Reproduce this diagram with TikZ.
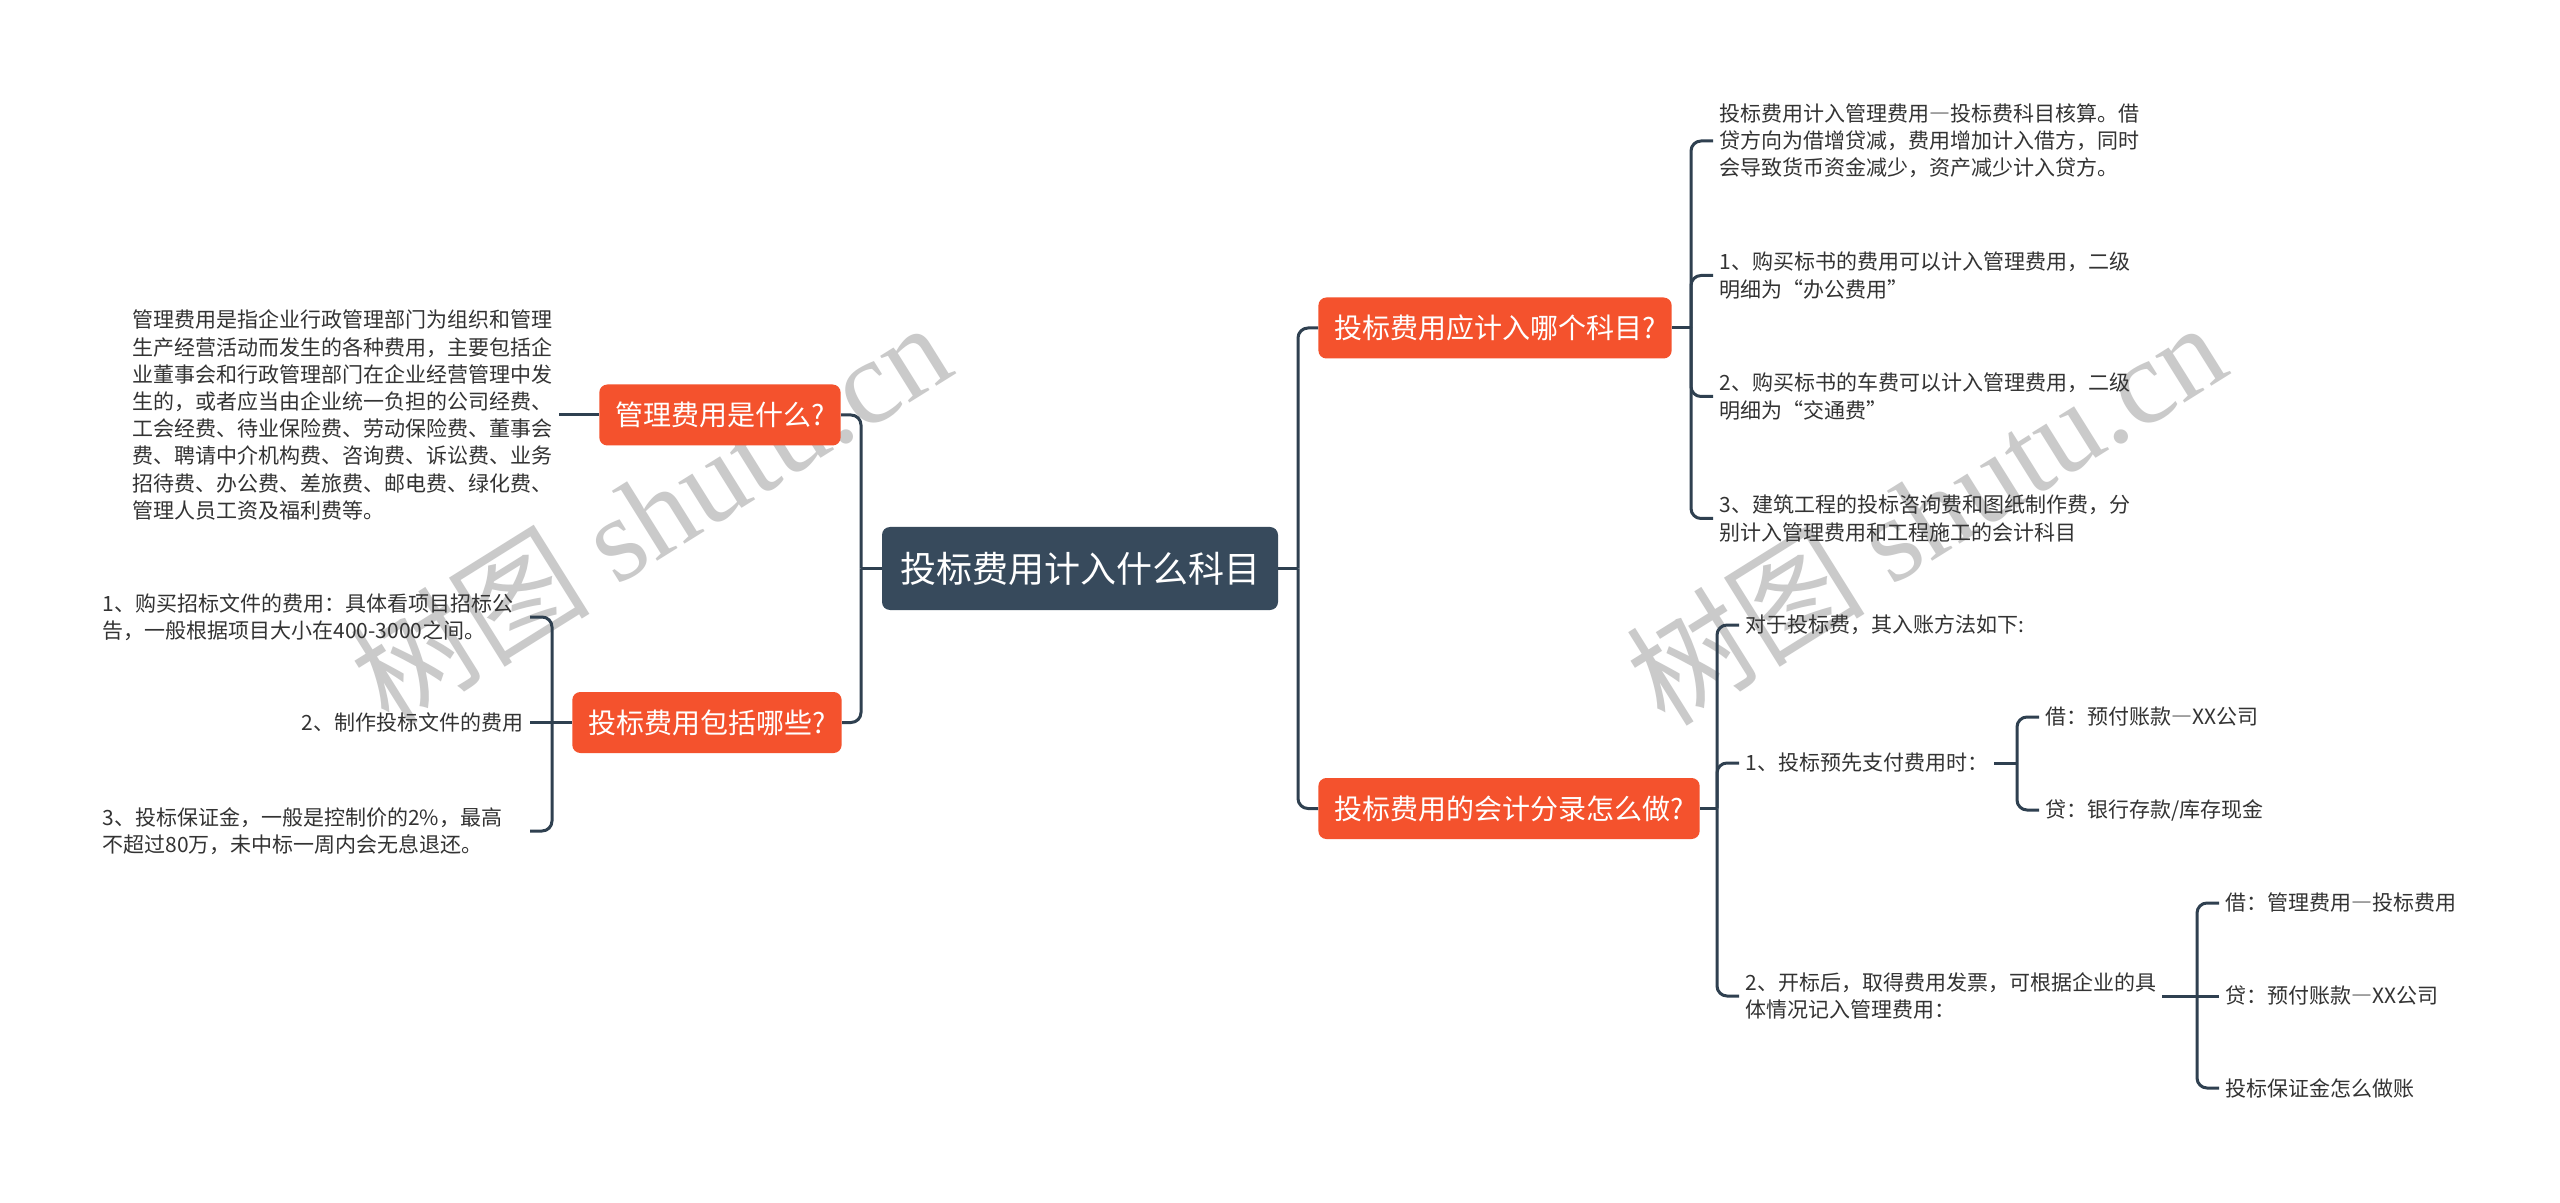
\documentclass[tikz,border=0pt]{standalone}
\usepackage{fontspec}
\setmainfont{Noto Sans CJK SC}
\newfontfamily\wmlat{Liberation Serif}
\newfontfamily\fwfont[RawFeature=+fwid]{Noto Sans CJK SC}
\newcommand\fwdash{{\fwfont —}}
\definecolor{orangebox}{HTML}{F4522D}
\definecolor{darkbox}{HTML}{374A5C}
\definecolor{linec}{HTML}{2F4050}
\definecolor{txt}{HTML}{333333}
\definecolor{wm}{HTML}{CACACA}
\begin{document}
\begin{tikzpicture}[x=0.5pt,y=-0.5pt,
  conn/.style={draw=linec,line width=1.5pt,rounded corners=5pt},
  rootbox/.style={fill=darkbox,rounded corners=4pt,text=white,font=\fontsize{18pt}{22pt}\selectfont,inner xsep=9pt,inner ysep=0pt,minimum height=41.5pt},
  topicbox/.style={fill=orangebox,rounded corners=4pt,text=white,font=\fontsize{14pt}{17pt}\selectfont,inner xsep=8pt,inner ysep=0pt,minimum height=30.5pt},
  leaf/.style={text=txt,font=\fontsize{10.5pt}{13.6pt}\selectfont,inner xsep=3pt,inner ysep=2pt,align=left},
  wrapleaf/.style={leaf,text width=210.5pt},
  wmark/.style={text=wm,rotate=32,font=\fontsize{60pt}{70pt}\selectfont}
]
\useasboundingbox (0,0) rectangle (2560,1203);
\fill[white] (0,0) rectangle (2560,1203);

% watermarks
\node[wmark] (wm1) at (650,512) {树图 {\wmlat shutu.cn}};
\node[wmark] (wm2) at (1925,512) {树图 {\wmlat shutu.cn}};

% root and topics
\node[rootbox] (root) at (1080,568.5) {投标费用计入什么科目};
\node[topicbox,anchor=east] (t1) at (841,415) {管理费用是什么?};
\node[topicbox,anchor=east] (t2) at (842,722.5) {投标费用包括哪些?};
\node[topicbox,anchor=west] (t3) at (1318,328) {投标费用应计入哪个科目?};
\node[topicbox,anchor=west] (t4) at (1318,808.5) {投标费用的会计分录怎么做?};

% junctions
\coordinate (jL) at (861,568.5);
\coordinate (jR) at (1298,568.5);
\coordinate (j2) at (552,722.5);
\coordinate (j3) at (1691,328);
\coordinate (j4) at (1717,808.5);
\coordinate (j41) at (2017,763);
\coordinate (j42) at (2197,996);

% left leaves
\node[leaf,anchor=east] (p1) at (559,415) {管理费用是指企业行政管理部门为组织和管理\\生产经营活动而发生的各种费用，主要包括企\\业董事会和行政管理部门在企业经营管理中发\\生的，或者应当由企业统一负担的公司经费、\\工会经费、待业保险费、劳动保险费、董事会\\费、聘请中介机构费、咨询费、诉讼费、业务\\招待费、办公费、差旅费、邮电费、绿化费、\\管理人员工资及福利费等。};
\node[wrapleaf,anchor=east] (b1) at (530,617) {1、购买招标文件的费用：具体看项目招标公\\告，一般根据项目大小在400-3000之间。};
\node[leaf,anchor=east] (b2) at (530,722.5) {2、制作投标文件的费用};
\node[wrapleaf,anchor=east] (b3) at (530,831) {3、投标保证金，一般是控制价的2\%，最高\\不超过80万，未中标一周内会无息退还。};

% right leaves (topic 3)
\node[leaf,anchor=west] (r1) at (1713,141) {投标费用计入管理费用\fwdash 投标费科目核算。借\\贷方向为借增贷减，费用增加计入借方，同时\\会导致货币资金减少，资产减少计入贷方。};
\node[leaf,anchor=west] (r2) at (1713,275.5) {1、购买标书的费用可以计入管理费用，二级\\明细为“办公费用”};
\node[leaf,anchor=west] (r3) at (1713,396.5) {2、购买标书的车费可以计入管理费用，二级\\明细为“交通费”};
\node[leaf,anchor=west] (r4) at (1713,518.5) {3、建筑工程的投标咨询费和图纸制作费，分\\别计入管理费用和工程施工的会计科目};

% right leaves (topic 4)
\node[leaf,anchor=west] (a0) at (1739,625) {对于投标费，其入账方法如下:};
\node[leaf,anchor=west] (a1) at (1739,763) {1、投标预先支付费用时：};
\node[leaf,anchor=west] (a2) at (1739,996) {2、开标后，取得费用发票，可根据企业的具\\体情况记入管理费用：};
\node[leaf,anchor=west] (a11) at (2039,717) {借：预付账款\fwdash XX公司};
\node[leaf,anchor=west] (a12) at (2039,810) {贷：银行存款/库存现金};
\node[leaf,anchor=west] (a21) at (2219,903) {借：管理费用\fwdash 投标费用};
\node[leaf,anchor=west] (a22) at (2219,996) {贷：预付账款\fwdash XX公司};
\node[leaf,anchor=west] (a23) at (2219,1088) {投标保证金怎么做账};

% connectors
\draw[conn] (root.west) -- (jL);
\draw[conn] (jL) |- (t1.east);
\draw[conn] (jL) |- (t2.east);
\draw[conn] (root.east) -- (jR);
\draw[conn] (jR) |- (t3.west);
\draw[conn] (jR) |- (t4.west);

\draw[conn] (t1.west) -- (p1.east);
\draw[conn] (t2.west) -- (j2);
\draw[conn] (j2) |- (b1.east);
\draw[conn] (j2) -- (b2.east);
\draw[conn] (j2) |- (b3.east);

\draw[conn] (t3.east) -- (j3);
\draw[conn] (j3) |- (r1.west);
\draw[conn] (j3) |- (r2.west);
\draw[conn] (j3) |- (r3.west);
\draw[conn] (j3) |- (r4.west);

\draw[conn] (t4.east) -- (j4);
\draw[conn] (j4) |- (a0.west);
\draw[conn] (j4) |- (a1.west);
\draw[conn] (j4) |- (a2.west);

\draw[conn] (a1.east) -- (j41);
\draw[conn] (j41) |- (a11.west);
\draw[conn] (j41) |- (a12.west);

\draw[conn] (a2.east) -- (j42);
\draw[conn] (j42) |- (a21.west);
\draw[conn] (j42) -- (a22.west);
\draw[conn] (j42) |- (a23.west);
\end{tikzpicture}
\end{document}
